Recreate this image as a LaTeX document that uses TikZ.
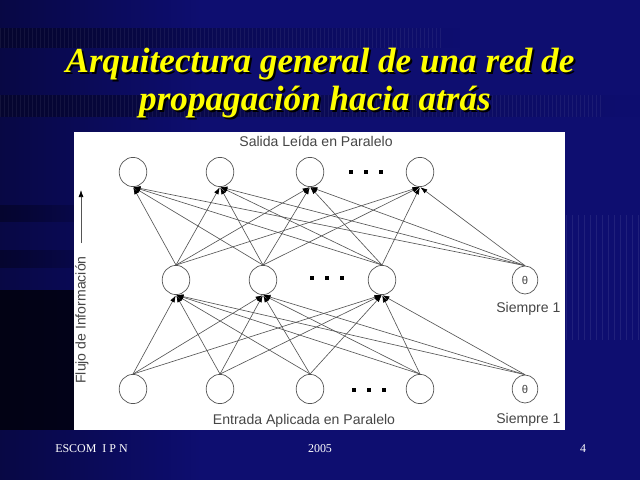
\documentclass[tikz,border=0pt]{standalone}
\usepackage{fontspec}
\setmainfont{Liberation Serif}
\newfontfamily\diag{Liberation Sans}
\usetikzlibrary{arrows.meta,shapes.geometric,fadings}
\definecolor{bgblue}{RGB}{14,14,112}
\definecolor{bgdark}{RGB}{4,4,40}
\definecolor{ttl}{RGB}{255,255,0}
\definecolor{lgray}{RGB}{85,85,85}
\definecolor{tgray}{RGB}{70,70,70}
\tikzset{
  neu/.style={ellipse,draw=lgray,line width=0.5pt,minimum width=0.69cm,minimum height=0.73cm,inner sep=0pt,fill=white},
  thet/.style={ellipse,draw=lgray,line width=0.5pt,minimum width=0.64cm,minimum height=0.7cm,inner sep=0pt,fill=white,font=\diag\fontsize{8}{9}\selectfont,text=tgray},
  con/.style={draw=lgray,line width=0.45pt,-{Latex[length=5pt,width=3.4pt,color=black]},shorten >=0.3pt},
  sq/.style={rectangle,fill=black,minimum size=2.6pt,inner sep=0pt},
  lbl/.style={font=\diag\fontsize{10}{12}\selectfont,text=tgray,inner sep=0pt},
  title/.style={font=\bfseries\itshape\fontsize{25}{28}\selectfont,inner sep=0pt},
  foot/.style={font=\fontsize{8.5}{10}\selectfont,text=white,inner sep=0pt},
  band/.style={fill=bgdark,fill opacity=0.75}
}
\begin{document}
\begin{tikzpicture}[x=0.025cm,y=-0.025cm]
\useasboundingbox (0,0) rectangle (640,480);
% background
\fill[bgblue] (0,0) rectangle (640,480);
\shade[left color=bgdark,right color=bgblue,opacity=0.6] (0,0) rectangle (200,480);
\fill[band,path fading=east] (0,28) rectangle (460,48);
\fill[band,path fading=east] (0,95) rectangle (640,117);
\fill[band,path fading=east] (0,205) rectangle (110,222);
\fill[band,path fading=east] (0,250) rectangle (110,268);
\fill[black,opacity=0.7] (0,290) rectangle (80,430);
\foreach \x in {0,4,...,600}{\draw[white,opacity=0.06,line width=0.4pt] (\x,95) -- (\x,117);}
\foreach \x in {0,4,...,440}{\draw[white,opacity=0.06,line width=0.4pt] (\x,28) -- (\x,48);}
\foreach \x in {566,572,...,640}{\draw[white,opacity=0.08,line width=0.4pt] (\x,215) -- (\x,340);}
% title
\node[title,text=black] at (322,66) {Arquitectura general de una red de};
\node[title,text=ttl] (t1) at (320,64) {Arquitectura general de una red de};
\node[title,text=black] at (317,104) {propagación hacia atrás};
\node[title,text=ttl] (t2) at (315,102) {propagación hacia atrás};
% panel
\fill[white] (74,132) rectangle (565,430);
% nodes
\node[neu] (o1) at (133,172) {};
\node[neu] (o2) at (220,172) {};
\node[neu] (o3) at (310,172) {};
\node[neu] (o4) at (420,172) {};
\node[neu] (h1) at (176,280) {};
\node[neu] (h2) at (263,280) {};
\node[neu] (h3) at (382,280) {};
\node[thet] (ht) at (525,280) {θ};
\node[neu] (i1) at (133,389) {};
\node[neu] (i2) at (220,389) {};
\node[neu] (i3) at (310,389) {};
\node[neu] (i4) at (420,389) {};
\node[thet] (it) at (525,389) {θ};
% dots
\node[sq] (da1) at (351,172) {};
\node[sq] (da2) at (366,172) {};
\node[sq] (da3) at (381,172) {};
\node[sq] (db1) at (312,278) {};
\node[sq] (db2) at (327,278) {};
\node[sq] (db3) at (342,278) {};
\node[sq] (dc1) at (354,390) {};
\node[sq] (dc2) at (369,390) {};
\node[sq] (dc3) at (384,390) {};
% connections
\foreach \s in {h1,h2,h3,ht}{\foreach \t in {o1,o2,o3,o4}{\draw[con] (\s.north) -- (\t.south);}}
\foreach \s in {i1,i2,i3,i4,it}{\foreach \t in {h1,h2,h3}{\draw[con] (\s.north) -- (\t.south);}}
% labels
\node[lbl] (sal) at (316,141) {Salida Leída en Paralelo};
\node[lbl] (ent) at (304,421) {Entrada Aplicada en Paralelo};
\node[lbl,anchor=west] (s1) at (496,309) {Siempre 1};
\node[lbl,anchor=west] (s2) at (496,420) {Siempre 1};
\node[lbl,rotate=90] (flu) at (82,320) {Flujo de Información};
\coordinate (fa) at (81,243);
\coordinate (fb) at (81,190);
\draw[lgray,line width=0.5pt,-{Latex[length=5pt,width=3.5pt,color=black]}] (fa) -- (fb);
% footer
\node[foot,anchor=west] (f1) at (55,449) {ESCOM\ \ I P N};
\node[foot] (f2) at (320,449) {2005};
\node[foot] (f3) at (583,449) {4};
\end{tikzpicture}
\end{document}
